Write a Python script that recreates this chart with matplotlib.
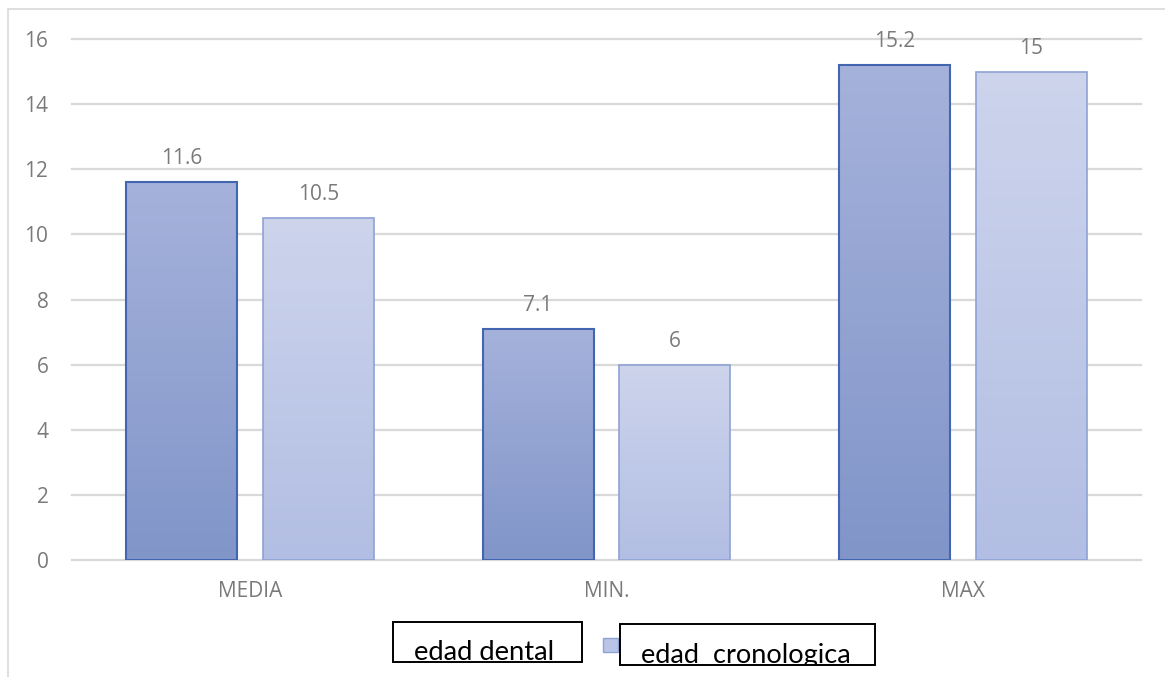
import numpy as np
import matplotlib
matplotlib.use("Agg")
import matplotlib.pyplot as plt
from matplotlib.patches import Rectangle
from matplotlib.colors import LinearSegmentedColormap
from matplotlib.transforms import Bbox

# ---- data ----
categories = ["MEDIA", "MIN.", "MAX"]
series_names = ["edad dental", "edad  cronologica"]
edad_dental = [11.6, 7.1, 15.2]
edad_cronologica = [10.5, 6, 15]
yticks = [0, 2, 4, 6, 8, 10, 12, 14, 16]
value_labels_dental = ["11.6", "7.1", "15.2"]
value_labels_crono = ["10.5", "6", "15"]

W, H = 1165, 677
DPI = 100
fig = plt.figure(figsize=(W / DPI, H / DPI), dpi=DPI)
plt.rcParams['font.family'] = ['Open Sans', 'DejaVu Sans']

def fx(px):
    return px / W

def fy(py):
    return 1 - py / H

# outer frame
fig.add_artist(Rectangle((fx(8), -0.2), 1.2, fy(9) + 0.2, transform=fig.transFigure,
                         fill=False, edgecolor="#D9D9D9", linewidth=1.2))

ax = fig.add_axes([fx(72), fy(560), fx(1141) - fx(72), fy(39) - fy(560)])
ax.set_xlim(-0.5, 2.5)
ax.set_ylim(0, 16)
for s in ax.spines.values():
    s.set_visible(False)

ax.set_yticks(yticks)
ax.set_yticklabels([str(t) for t in yticks])
ax.tick_params(axis="y", length=0, pad=17, labelsize=15, labelcolor="#7A7A7A")
ax.tick_params(axis="x", length=0, pad=15, labelsize=15, labelcolor="#7A7A7A")
ax.set_xticks(range(len(categories)))
ax.set_xticklabels(categories)
ax.yaxis.grid(True, color="#D9D9D9", linewidth=1.6)
ax.set_axisbelow(True)
for l in ax.get_ygridlines():
    l.set_clip_on(False)

x = np.arange(len(categories))
bw = 0.3115
off = 0.192

cmap_dark = LinearSegmentedColormap.from_list("d", ["#8195C9", "#A5B2DB"])
cmap_light = LinearSegmentedColormap.from_list("l", ["#B2BEE3", "#CDD4EC"])

grad = np.linspace(0, 1, 256).reshape(-1, 1)

def draw_bars(xs, vals, cmap, edge, lw, labels):
    bars = ax.bar(xs, vals, width=bw, facecolor="none", edgecolor=edge,
                  linewidth=lw, zorder=3)
    for b, lab in zip(bars, labels):
        x0, y0 = b.get_x(), b.get_y()
        w, h = b.get_width(), b.get_height()
        im = ax.imshow(grad, extent=(x0, x0 + w, y0, y0 + h), origin="lower",
                       cmap=cmap, aspect="auto", zorder=2)
        clip = Rectangle((x0, y0), w, h, transform=ax.transData)
        im.set_clip_path(clip)
        ax.annotate(lab, (x0 + w / 2, y0 + h), xytext=(0, 13),
                    textcoords="offset points", ha="center", va="baseline",
                    fontsize=15, color="#7A7A7A", zorder=4)
    return bars

draw_bars(x - off, edad_dental, cmap_dark, "#4267B0", 1.5, value_labels_dental)
draw_bars(x + off, edad_cronologica, cmap_light, "#8FA2D4", 1.2, value_labels_crono)
ax.set_xlim(-0.5, 2.5)
ax.set_ylim(0, 16)

# ---- legend (manual, mimicking reference) ----
box1 = Rectangle((fx(393), fy(662)), fx(582) - fx(393), fy(622) - fy(662),
                 transform=fig.transFigure, fill=False, edgecolor="black", linewidth=1.4)
fig.add_artist(box1)
t1 = fig.text(fx(414), fy(660), series_names[0], fontsize=19.7, color="black",
              family=["Lato", "DejaVu Sans"], ha="left", va="baseline")

fig.add_artist(Rectangle((fx(603), fy(652)), fx(618) - fx(603), fy(638) - fy(652),
                         transform=fig.transFigure, facecolor="#BAC4E6",
                         edgecolor="#8FA2D4", linewidth=1.0))

box2 = Rectangle((fx(620), fy(665)), fx(875) - fx(620), fy(624) - fy(665),
                 transform=fig.transFigure, fill=False, edgecolor="black", linewidth=1.4)
fig.add_artist(box2)
t2 = fig.text(fx(641), fy(663), series_names[1], fontsize=19.5, color="black",
              family=["Lato", "DejaVu Sans"], ha="left", va="baseline")
t2.set_clip_box(Bbox.from_extents(0, (1 - 665 / H) * H, W, H))
t2.set_clip_on(True)

fig.savefig("out.png", dpi=DPI)
